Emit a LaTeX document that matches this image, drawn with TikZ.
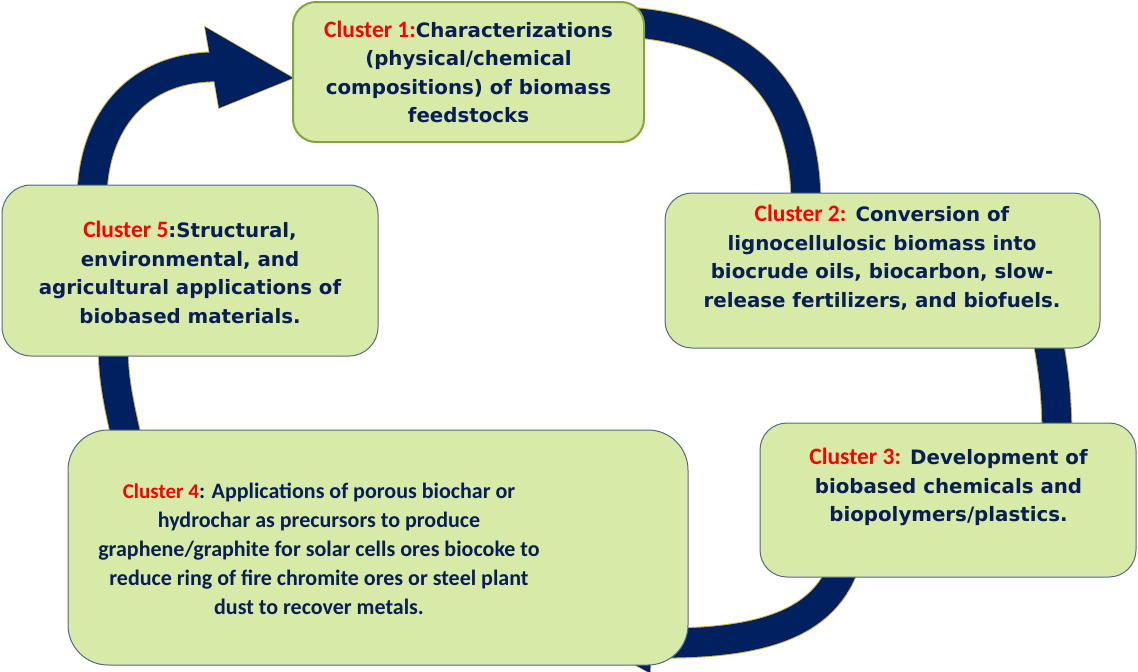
\documentclass[tikz,border=0pt]{standalone}
\usepackage{fontspec}
\setmainfont{DejaVu Sans}
\newfontfamily\calib{Carlito}
\definecolor{navy}{RGB}{0,32,96}
\definecolor{txtnavy}{RGB}{8,30,84}
\definecolor{goldedge}{RGB}{214,182,70}
\definecolor{boxfill}{RGB}{215,234,167}
\definecolor{boxline}{RGB}{84,104,132}
\definecolor{oliveline}{RGB}{134,164,56}
\definecolor{clred}{RGB}{255,0,0}
\tikzset{
  bandgold/.style={line width=31pt, draw=goldedge},
  bandnavy/.style={line width=29pt, draw=navy},
  cbox/.style={fill=boxfill, draw=boxline, line width=1pt, inner sep=0pt},
  ctext/.style={align=center, inner sep=0pt, text=txtnavy, font=\bfseries\fontsize{19.8}{28.5}\selectfont},
  c4text/.style={align=center, inner sep=0pt, text=txtnavy, font=\calib\bfseries\fontsize{22}{29}\selectfont},
}
\newcommand{\cl}[1]{{\calib\bfseries\fontsize{23.5}{28.5}\selectfont\color{clred}#1}}
\newcommand{\clsmall}[1]{{\calib\fontsize{21}{29}\selectfont\color{clred}#1}}
\begin{document}
\begin{tikzpicture}[x=1pt,y=-1pt]
\useasboundingbox (0,0) rectangle (1138,672);

% band end points
\coordinate (s1a) at (600,21);
\coordinate (s1b) at (806,205);
\coordinate (s2a) at (1046,330);
\coordinate (s2b) at (1057,440);
\coordinate (s3a) at (846,560);
\coordinate (s3b) at (648,643);
\coordinate (s4a) at (128,445);
\coordinate (s4b) at (113,340);
\coordinate (s5a) at (92,200);
\coordinate (s5b) at (222,67);
% arrowheads
\coordinate (h5t) at (293,78);
\coordinate (h5u) at (205,27);
\coordinate (h5l) at (219,108);
\coordinate (h3t) at (592,641);
\coordinate (h3u) at (653,610);
\coordinate (h3l) at (650,673);

% gold outline layer
\draw[bandgold] (s1a) .. controls (730,22) and (806,75) .. (s1b);
\draw[bandgold] (s2a) .. controls (1054,370) and (1057,400) .. (s2b);
\draw[bandgold] (s3a) .. controls (826,625) and (760,645) .. (s3b);
\draw[bandgold] (s4a) .. controls (118,400) and (113,380) .. (s4b);
\draw[bandgold] (s5a) .. controls (92,120) and (140,64) .. (s5b);
\filldraw[goldedge, line width=1.6pt, line join=miter] (h5u) -- (h5t) -- (h5l) -- cycle;
\filldraw[goldedge, line width=1.6pt, line join=miter] (h3u) -- (h3t) -- (h3l) -- cycle;

% navy layer
\draw[bandnavy] (s1a) .. controls (730,22) and (806,75) .. (s1b);
\draw[bandnavy] (s2a) .. controls (1054,370) and (1057,400) .. (s2b);
\draw[bandnavy] (s3a) .. controls (826,625) and (760,645) .. (s3b);
\draw[bandnavy] (s4a) .. controls (118,400) and (113,380) .. (s4b);
\draw[bandnavy] (s5a) .. controls (92,120) and (140,64) .. (s5b);
\fill[navy] (h5u) -- (h5t) -- (h5l) -- cycle;
\fill[navy] (h3u) -- (h3t) -- (h3l) -- cycle;

% boxes
\node[cbox, draw=oliveline, line width=2pt, minimum width=351pt, minimum height=140pt, rounded corners=23pt] (c1) at (468.5,72) {};
\node[cbox, minimum width=435pt, minimum height=155pt, rounded corners=27pt] (c2) at (882.5,270.5) {};
\node[cbox, minimum width=376pt, minimum height=154pt, rounded corners=27pt] (c3) at (948,500) {};
\node[cbox, minimum width=620pt, minimum height=235pt, rounded corners=40pt] (c4) at (378,547.5) {};
\node[cbox, minimum width=376pt, minimum height=171pt, rounded corners=29pt] (c5) at (190,270.5) {};

% texts
\node[ctext] (t1) at (468.5,72) {\cl{Cluster 1:}Characterizations\\(physical/chemical\\compositions) of biomass\\feedstocks};
\node[ctext] (t2) at (882,257.5) {\cl{Cluster 2:} Conversion of\\lignocellulosic biomass into\\biocrude oils, biocarbon, slow-\\release fertilizers, and biofuels.};
\node[ctext] (t3) at (948.5,487) {\cl{Cluster 3:} Development of\\biobased chemicals and\\biopolymers/plastics.};
\node[c4text] (t4) at (319,549) {\clsmall{Cluster 4}: Applications of porous biochar or\\hydrochar as precursors to produce\\graphene/graphite for solar cells ores biocoke to\\reduce ring of fire chromite ores or steel plant\\dust to recover metals.};
\node[ctext] (t5) at (190,272.5) {\cl{Cluster 5}:Structural,\\environmental, and\\agricultural applications of\\biobased materials.};
\end{tikzpicture}
\end{document}
